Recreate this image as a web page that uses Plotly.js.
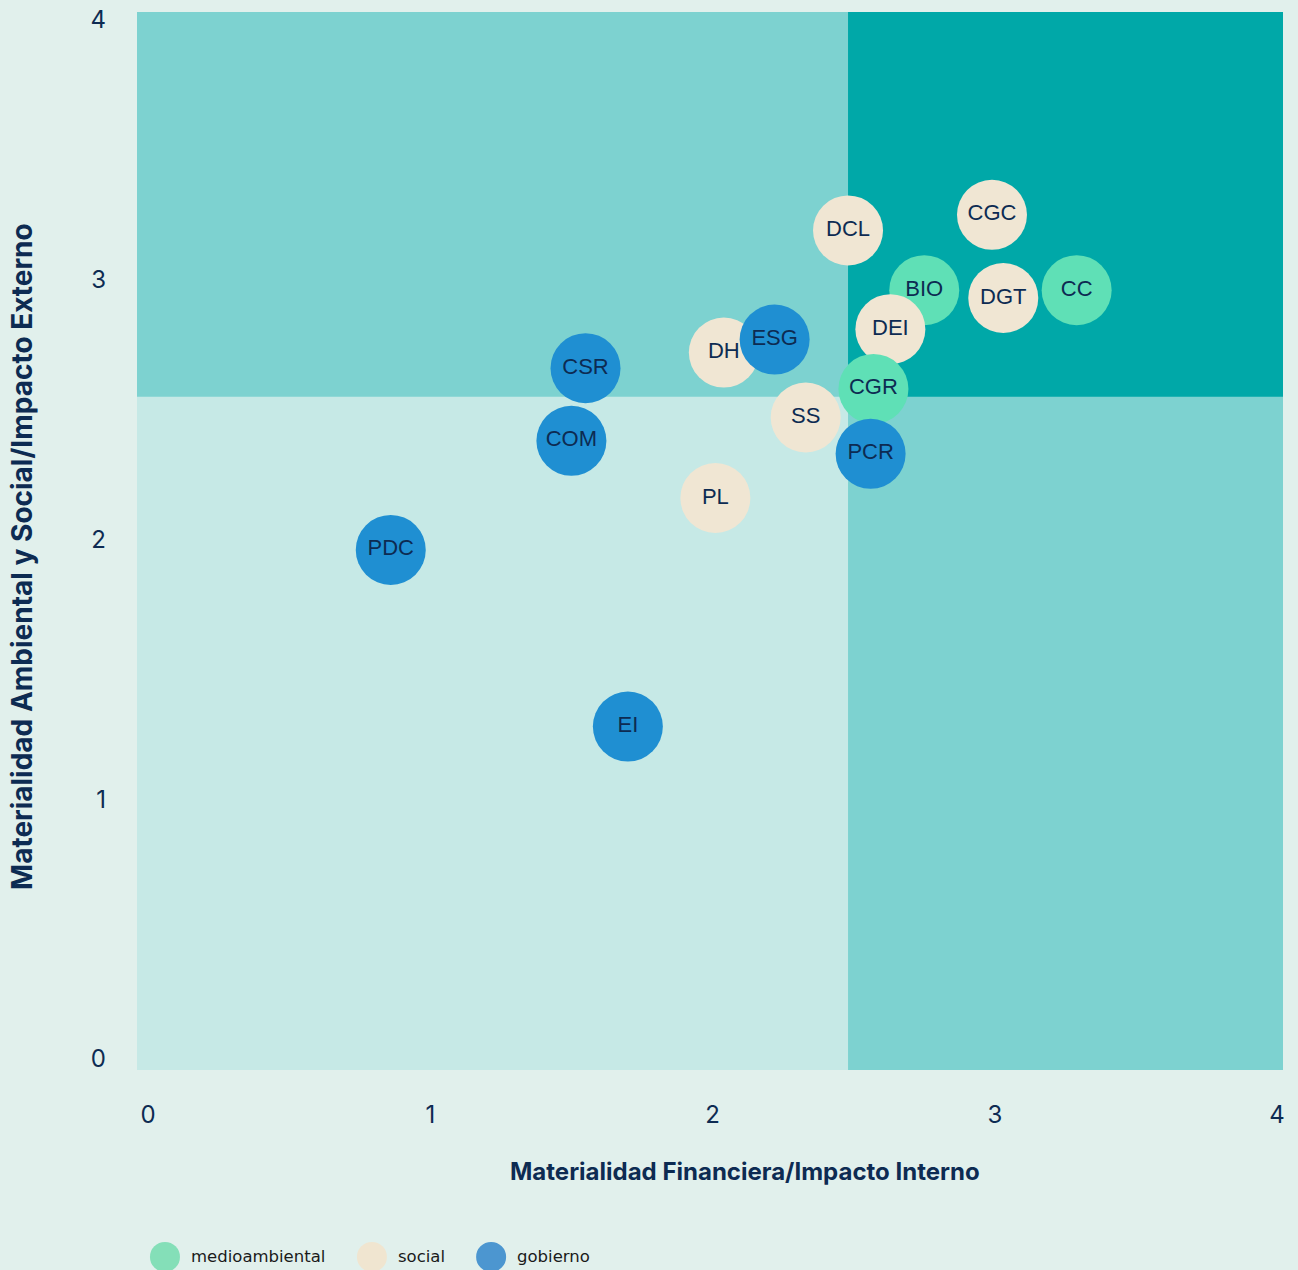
<!DOCTYPE html>
<html>
<head>
<meta charset="utf-8">
<script src="https://cdn.plot.ly/plotly-3.0.1.min.js"></script>
<style>
  html, body { margin: 0; padding: 0; background: #e1f0ec; }
  #chart { width: 1298px; height: 1270px; }
</style>
</head>
<body>
<div id="chart"></div>
<script>
// ---- Data ----
const labels     = ["CGC", "DCL", "BIO", "DGT", "CC", "DEI", "DH", "ESG", "CSR", "CGR", "SS", "COM", "PCR", "PL", "PDC", "EI"];
const financiera = [2.99, 2.48, 2.75, 3.03, 3.29, 2.63, 2.04, 2.22, 1.55, 2.57, 2.33, 1.50, 2.56, 2.01, 0.86, 1.70];
const impacto    = [3.25, 3.19, 2.96, 2.93, 2.96, 2.81, 2.72, 2.77, 2.66, 2.58, 2.47, 2.38, 2.33, 2.16, 1.96, 1.28];
const categoria  = ["social", "social", "medioambiental", "social", "medioambiental", "social", "social", "gobierno",
                    "gobierno", "medioambiental", "social", "gobierno", "gobierno", "social", "gobierno", "gobierno"];
const categorias = ["medioambiental", "social", "gobierno"];
const xTicks = [0, 1, 2, 3, 4];
const yTicks = [0, 1, 2, 3, 4];
const xThreshold = 2.48;
const yThreshold = 2.55;

// ---- Styling ----
const markerColor = { medioambiental: "#5fe0b6", social: "#f0e6d3", gobierno: "#1f8fd2" };
const legendColor = { medioambiental: "#84dfb8", social: "#f0e5d0", gobierno: "#4c96d0" };
const navy = "#0d2b52";
const xRange = [-0.039, 4.021];
const yRange = [-0.042, 4.031];

const trace = {
  type: "scatter",
  mode: "markers+text",
  x: financiera,
  y: impacto,
  text: labels,
  textposition: "middle center",
  textfont: { family: "Liberation Sans, Arial, sans-serif", size: 22, color: navy },
  marker: { size: 70, color: categoria.map(c => markerColor[c]), line: { width: 0 }, opacity: 1 },
  showlegend: false,
  hoverinfo: "text"
};

// Legend (manual, larger circles as in the reference)
const legCircleX = [0.0244, 0.205, 0.309];
const legTextX = [0.0454, 0.226, 0.3298];
const legY = -0.1767;
const shapes = [
  { type: "rect", xref: "x", yref: "y", x0: xRange[0], x1: xThreshold, y0: yRange[0], y1: yThreshold,
    fillcolor: "#c6e9e6", line: { width: 0 }, layer: "below" },
  { type: "rect", xref: "x", yref: "y", x0: xThreshold, x1: xRange[1], y0: yThreshold, y1: yRange[1],
    fillcolor: "#00a8a8", line: { width: 0 }, layer: "below" }
];
const annotations = [
  { xref: "paper", yref: "paper", x: 0.5305, y: -0.0964, xanchor: "center", yanchor: "middle", showarrow: false,
    text: "<b>Materialidad Financiera/Impacto Interno</b>",
    font: { family: "Inter, Liberation Sans, sans-serif", size: 24, color: navy } },
  { xref: "paper", yref: "paper", x: -0.1003, y: 0.485, xanchor: "center", yanchor: "middle", showarrow: false,
    textangle: -90, text: "<b>Materialidad Ambiental y Social/Impacto Externo</b>",
    font: { family: "Inter, Liberation Sans, sans-serif", size: 28, color: navy } }
];
categorias.forEach((c, i) => {
  shapes.push({ type: "circle", xref: "paper", yref: "paper", xsizemode: "pixel", ysizemode: "pixel",
    xanchor: legCircleX[i], yanchor: legY, x0: -15, x1: 15, y0: -15, y1: 15,
    fillcolor: legendColor[c], line: { width: 0 } });
  annotations.push({ xref: "paper", yref: "paper", x: legTextX[i], y: legY, xanchor: "left", yanchor: "middle",
    showarrow: false, text: c, font: { family: "DejaVu Sans, sans-serif", size: 16.5, color: "#1a1a1a" } });
});

const layout = {
  width: 1298,
  height: 1270,
  margin: { l: 137, r: 15, t: 12, b: 200 },
  paper_bgcolor: "#e1f0ec",
  plot_bgcolor: "#7dd2d0",
  showlegend: false,
  xaxis: {
    range: xRange, tickvals: xTicks, ticktext: xTicks.map(String), showgrid: false, zeroline: false,
    showline: false, ticks: "", ticklabelstandoff: 28,
    tickfont: { family: "Inter, Lato, sans-serif", size: 24, color: navy }
  },
  yaxis: {
    range: yRange, tickvals: yTicks, ticktext: yTicks.map(String), showgrid: false, zeroline: false,
    showline: false, ticks: "", ticklabelstandoff: 30,
    tickfont: { family: "Inter, Lato, sans-serif", size: 24, color: navy }
  },
  shapes: shapes,
  annotations: annotations
};

Plotly.newPlot("chart", [trace], layout, { displayModeBar: false, staticPlot: true });
</script>
</body>
</html>
